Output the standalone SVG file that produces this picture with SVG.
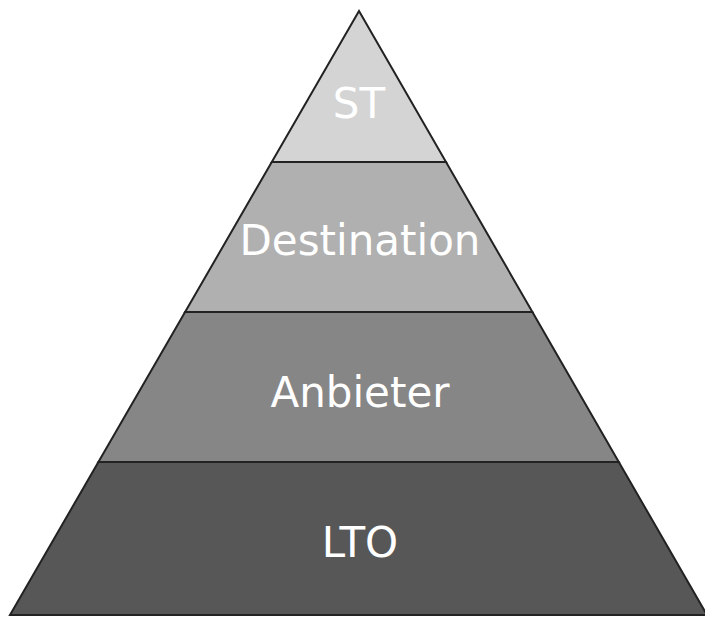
<svg xmlns="http://www.w3.org/2000/svg" width="705" height="617" viewBox="0 0 705 617">
<style>
.tier{stroke:#222;stroke-width:2;stroke-linejoin:miter}
.lbl{font-family:"DejaVu Sans",Verdana,sans-serif;font-size:42px;fill:#ffffff;text-anchor:middle}
</style>
<rect width="705" height="617" fill="#ffffff"/>
<g id="st">
<polygon class="tier" points="359,11 446,162 271.8,162" fill="#d4d4d4"/>
<text class="lbl" x="359" y="118">ST</text>
</g>
<g id="destination">
<polygon class="tier" points="271.8,162 446,162 532.4,312 185.1,312" fill="#b0b0b0"/>
<text class="lbl" x="360" y="255">Destination</text>
</g>
<g id="anbieter">
<polygon class="tier" points="185.1,312 532.4,312 618.8,462 98.4,462" fill="#868686"/>
<text class="lbl" x="360" y="407">Anbieter</text>
</g>
<g id="lto">
<polygon class="tier" points="98.4,462 618.8,462 707,615 10,615" fill="#575757"/>
<text class="lbl" x="360" y="557">LTO</text>
</g>
</svg>
